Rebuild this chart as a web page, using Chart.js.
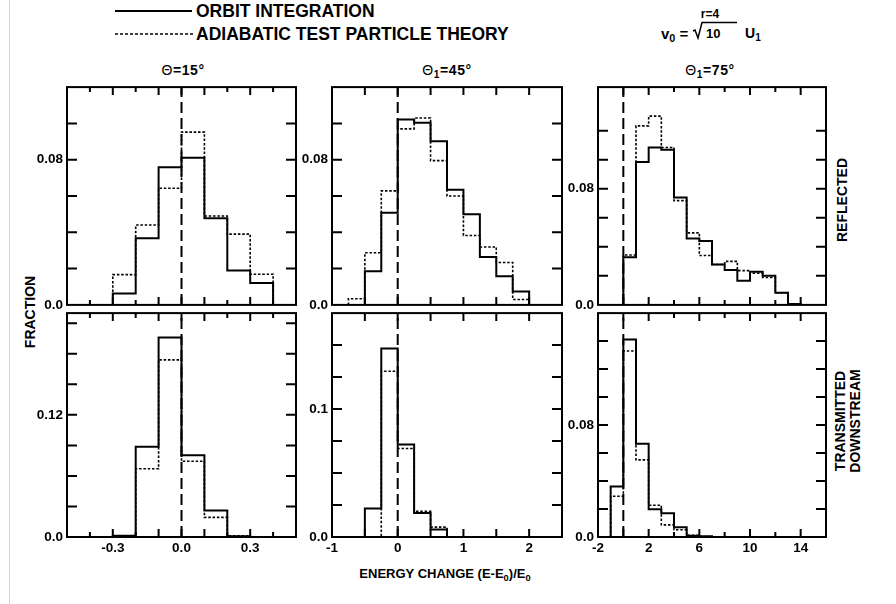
<!DOCTYPE html>
<html>
<head>
<meta charset="utf-8">
<script src="https://cdn.jsdelivr.net/npm/chart.js@4.4.1/dist/chart.umd.min.js"></script>
<style>
html,body{margin:0;padding:0;background:#fff;}
body{width:896px;height:604px;position:relative;overflow:hidden;font-family:"Liberation Sans",Arial,Helvetica,sans-serif;color:#000;}
.t{position:absolute;white-space:nowrap;font-weight:bold;line-height:1;}
.c{transform:translate(-50%,-50%);}
.l{transform:translateY(-50%);}
.rot{transform:translate(-50%,-50%) rotate(-90deg);text-align:center;}
.sb{font-size:72%;position:relative;top:0.28em;}
canvas{position:absolute;}
</style>
</head>
<body>
<div style="position:absolute;left:9px;top:0;width:1px;height:604px;background:#d4d4d4"></div>

<!-- legend -->
<div style="position:absolute;left:115px;top:10px;width:77px;height:2px;background:#000"></div>
<div class="t l" style="left:196px;top:12px;font-size:17.5px">ORBIT INTEGRATION</div>
<svg style="position:absolute;left:115px;top:29px" width="78" height="10"><line x1="0" y1="5" x2="78" y2="5" stroke="#000" stroke-width="1.6" stroke-dasharray="3,2"/></svg>
<div class="t l" style="left:196px;top:35px;font-size:17.5px">ADIABATIC TEST PARTICLE THEORY</div>

<!-- formula -->
<div class="t c" style="left:710px;top:14px;font-size:12px">r=4</div>
<div class="t l" style="left:661px;top:33px;font-size:15px">v<span class="sb">0</span> =</div>
<svg style="position:absolute;left:690px;top:18px" width="50" height="24"><polyline points="3,13 5,12 8,20 12,4.5 47,4.5" fill="none" stroke="#000" stroke-width="1.5"/></svg>
<div class="t l" style="left:706px;top:33px;font-size:13px">10</div>
<div class="t l" style="left:745px;top:33px;font-size:14px">U<span class="sb">1</span></div>

<!-- panel titles -->
<div class="t c" style="left:183px;top:70px;font-size:14px;letter-spacing:0.6px"><span style="font-weight:normal">Θ</span>=15°</div>
<div class="t c" style="left:447px;top:70px;font-size:14px;letter-spacing:0.6px"><span style="font-weight:normal">Θ</span><span class="sb">1</span>=45°</div>
<div class="t c" style="left:710px;top:70px;font-size:14px;letter-spacing:0.6px"><span style="font-weight:normal">Θ</span><span class="sb">1</span>=75°</div>

<!-- axis texts -->
<div class="t rot" style="left:30px;top:312px;font-size:14px">FRACTION</div>
<div class="t rot" style="left:842px;top:200px;font-size:14px">REFLECTED</div>
<div class="t rot" style="left:848px;top:421px;font-size:14px;line-height:15px">TRANSMITTED<br>DOWNSTREAM</div>
<div class="t c" style="left:445px;top:574px;font-size:13px">ENERGY CHANGE (E-E<span class="sb">0</span>)/E<span class="sb">0</span></div>

<script>
// ---------------- DATA ----------------
// Θ = 15°  (bins 0.1 wide)
const edges15R = [-0.3, -0.2, -0.1, 0.0, 0.1, 0.2, 0.3, 0.4];
const orbit15R = [0.0063, 0.0367, 0.0758, 0.0811, 0.0478, 0.0189, 0.0120];
const adiab15R = [0.0167, 0.0440, 0.0643, 0.0952, 0.0490, 0.0390, 0.0169];
const edges15T = [-0.3, -0.2, -0.1, 0.0, 0.1, 0.2, 0.3];
const orbit15T = [0.0013, 0.0887, 0.1960, 0.0803, 0.0260, 0.0008];
const adiab15T = [0.0013, 0.0671, 0.1740, 0.0745, 0.0193, 0.0013];

// Θ1 = 45°  (bins 0.25 wide)
const edges45R = [-0.75, -0.5, -0.25, 0.0, 0.25, 0.5, 0.75, 1.0, 1.25, 1.5, 1.75, 2.0];
const orbit45R = [0.0, 0.0186, 0.0508, 0.1021, 0.1004, 0.0901, 0.0635, 0.0499, 0.0264, 0.0158, 0.0074];
const adiab45R = [0.0034, 0.0287, 0.0628, 0.0970, 0.1030, 0.0795, 0.0600, 0.0382, 0.0319, 0.0234, 0.0030];
const edges45T = [-0.5, -0.25, 0.0, 0.25, 0.5, 0.75];
const orbit45T = [0.0223, 0.1474, 0.0723, 0.0187, 0.0059];
const adiab45T = [0.0, 0.1295, 0.0692, 0.0200, 0.0077];

// Θ1 = 75°  (bins 1 wide)
const edges75R = [0, 1, 2, 3, 4, 5, 6, 7, 8, 9, 10, 11, 12, 13, 14];
const orbit75R = [0.0329, 0.0984, 0.1084, 0.1069, 0.0740, 0.0458, 0.0440, 0.0278, 0.0240, 0.0167, 0.0229, 0.0200, 0.0084, 0.0007];
const adiab75R = [0.0344, 0.1233, 0.1300, 0.1084, 0.0718, 0.0496, 0.0340, 0.0278, 0.0300, 0.0236, 0.0218, 0.0189, 0.0084, 0.0007];
const edges75T = [-1, 0, 1, 2, 3, 4, 5, 6, 7];
const orbit75T = [0.0361, 0.1411, 0.0666, 0.0199, 0.0169, 0.0070, 0.0009, 0.0005];
const adiab75T = [0.0291, 0.1329, 0.0551, 0.0227, 0.0087, 0.0052, 0.0012, 0.0002];

// reference line E = E0
const refX = 0;

// x ticks / labels
const xRange15 = [-0.5, 0.5];
const xTicks15 = [-0.5, -0.4, -0.3, -0.2, -0.1, 0.0, 0.1, 0.2, 0.3, 0.4, 0.5];
const xLabVals15 = [-0.3, 0.0, 0.3];
const xLabTxt15 = ['-0.3', '0.0', '0.3'];
const xLong15 = [-0.3, -0.1, 0.0, 0.1, 0.3];

const xRange45 = [-1, 2.5];
const xTicks45 = [-1, -0.5, 0, 0.5, 1, 1.5, 2, 2.5];
const xLabVals45 = [-1, 0, 1, 2];
const xLabTxt45 = ['-1', '0', '1', '2'];
const xLong45 = [-0.5, 0, 0.5, 1, 1.5, 2];

const xRange75 = [-2, 16];
const xTicks75 = [-2, 0, 2, 4, 6, 8, 10, 12, 14, 16];
const xLabVals75 = [-2, 2, 6, 10, 14];
const xLabTxt75 = ['-2', '2', '6', '10', '14'];
const xLong75 = [0, 2, 6, 10, 14];

// y ranges / ticks / labels
const yMax15R = 0.12, yTicks15R = [0, 0.02, 0.04, 0.06, 0.08, 0.10], yLabVals15R = [0, 0.08], yLabTxt15R = ['0.0', '0.08'];
const yMax15T = 0.22, yTicks15T = [0, 0.03, 0.06, 0.09, 0.12, 0.15, 0.18, 0.21], yLabVals15T = [0, 0.12], yLabTxt15T = ['0.0', '0.12'];
const yMax45R = 0.12, yTicks45R = [0, 0.02, 0.04, 0.06, 0.08, 0.10], yLabVals45R = [0, 0.08], yLabTxt45R = ['0.0', '0.08'];
const yMax45T = 0.175, yTicks45T = [0, 0.025, 0.05, 0.075, 0.1, 0.125, 0.15], yLabVals45T = [0, 0.1], yLabTxt45T = ['0.0', '0.1'];
const yMax75R = 0.15, yTicks75R = [0, 0.02, 0.04, 0.06, 0.08, 0.10, 0.12], yLabVals75R = [0, 0.08], yLabTxt75R = ['0.0', '0.08'];
const yMax75T = 0.16, yTicks75T = [0, 0.02, 0.04, 0.06, 0.08, 0.10, 0.12, 0.14], yLabVals75T = [0, 0.08], yLabTxt75T = ['0.0', '0.08'];

// ---------------- LAYOUT ----------------
const COL_X = [[67, 296], [332, 562], [598, 826]];
const ROW_Y = [[83, 309], [309, 537]];
const PAD_L = 44, PAD_R = 8, PAD_T = 8;
const FONT = {family: '"Liberation Sans", Arial, Helvetica, sans-serif', size: 13.5, weight: 'bold'};

function near(a, b) { return Math.abs(a - b) < 1e-9; }
function labelFor(v, vals, txts) {
  for (let i = 0; i < vals.length; i++) if (near(v, vals[i])) return txts[i];
  return '';
}
function stepPoints(edges, vals) {
  const pts = [{x: edges[0], y: 0}];
  for (let i = 0; i < vals.length; i++) pts.push({x: edges[i], y: vals[i]});
  pts.push({x: edges[vals.length], y: 0});
  return pts;
}

const frameTicks = {
  id: 'frameTicks',
  afterDatasetsDraw(chart, args, o) {
    const {ctx, chartArea: a} = chart;
    const xs = chart.scales.x, ys = chart.scales.y;
    ctx.save();
    ctx.strokeStyle = '#000';
    ctx.lineWidth = 2;
    ctx.lineCap = 'butt';
    ctx.beginPath();
    xs.ticks.forEach(t => {
      if (near(t.value, xs.min) || near(t.value, xs.max)) return;
      const px = xs.getPixelForValue(t.value);
      const len = o.longX.some(v => near(v, t.value)) ? 8 : 5;
      ctx.moveTo(px, a.bottom); ctx.lineTo(px, a.bottom - len);
      ctx.moveTo(px, a.top); ctx.lineTo(px, a.top + len);
    });
    ys.ticks.forEach(t => {
      if (near(t.value, ys.min) || near(t.value, ys.max)) return;
      const py = ys.getPixelForValue(t.value);
      ctx.moveTo(a.left, py); ctx.lineTo(a.left + 10, py);
      ctx.moveTo(a.right, py); ctx.lineTo(a.right - 10, py);
    });
    ctx.stroke();
    ctx.strokeRect(a.left, a.top, a.right - a.left, a.bottom - a.top);
    ctx.restore();
  }
};

const panels = [
  {col: 0, row: 0, xr: xRange15, xt: xTicks15, xlv: xLabVals15, xlt: xLabTxt15, xl: xLong15,
   ymax: yMax15R, yt: yTicks15R, ylv: yLabVals15R, ylt: yLabTxt15R, e: edges15R, o: orbit15R, d: adiab15R},
  {col: 0, row: 1, xr: xRange15, xt: xTicks15, xlv: xLabVals15, xlt: xLabTxt15, xl: xLong15,
   ymax: yMax15T, yt: yTicks15T, ylv: yLabVals15T, ylt: yLabTxt15T, e: edges15T, o: orbit15T, d: adiab15T},
  {col: 1, row: 0, xr: xRange45, xt: xTicks45, xlv: xLabVals45, xlt: xLabTxt45, xl: xLong45,
   ymax: yMax45R, yt: yTicks45R, ylv: yLabVals45R, ylt: yLabTxt45R, e: edges45R, o: orbit45R, d: adiab45R},
  {col: 1, row: 1, xr: xRange45, xt: xTicks45, xlv: xLabVals45, xlt: xLabTxt45, xl: xLong45,
   ymax: yMax45T, yt: yTicks45T, ylv: yLabVals45T, ylt: yLabTxt45T, e: edges45T, o: orbit45T, d: adiab45T},
  {col: 2, row: 0, xr: xRange75, xt: xTicks75, xlv: xLabVals75, xlt: xLabTxt75, xl: xLong75,
   ymax: yMax75R, yt: yTicks75R, ylv: yLabVals75R, ylt: yLabTxt75R, e: edges75R, o: orbit75R, d: adiab75R},
  {col: 2, row: 1, xr: xRange75, xt: xTicks75, xlv: xLabVals75, xlt: xLabTxt75, xl: xLong75,
   ymax: yMax75T, yt: yTicks75T, ylv: yLabVals75T, ylt: yLabTxt75T, e: edges75T, o: orbit75T, d: adiab75T}
];

panels.forEach(p => {
  const [l, r] = COL_X[p.col];
  const [t, b] = ROW_Y[p.row];
  const bottomRow = p.row === 1;
  const padB = bottomRow ? 30 : 8;
  const W = (r - l) + PAD_L + PAD_R;
  const H = (b - t) + PAD_T + padB;
  const cv = document.createElement('canvas');
  cv.width = W; cv.height = H;
  cv.style.left = (l - PAD_L) + 'px';
  cv.style.top = (t - PAD_T) + 'px';
  cv.style.width = W + 'px';
  cv.style.height = H + 'px';
  document.body.appendChild(cv);

  new Chart(cv, {
    type: 'line',
    data: {
      datasets: [
        {data: [{x: refX, y: 0}, {x: refX, y: p.ymax}], borderColor: '#000', borderWidth: 2,
         borderDash: [11, 5], pointRadius: 0, fill: false},
        {data: stepPoints(p.e, p.d), borderColor: '#000', borderWidth: 1.6, borderDash: [2.5, 1.8],
         stepped: 'before', pointRadius: 0, fill: false},
        {data: stepPoints(p.e, p.o), borderColor: '#000', borderWidth: 2,
         stepped: 'before', pointRadius: 0, fill: false}
      ]
    },
    options: {
      responsive: false,
      animation: false,
      devicePixelRatio: 1,
      events: [],
      layout: {autoPadding: false, padding: {top: PAD_T, right: PAD_R, left: 0, bottom: 0}},
      plugins: {legend: {display: false}, tooltip: {enabled: false}, frameTicks: {longX: p.xl}},
      scales: {
        x: {
          type: 'linear', min: p.xr[0], max: p.xr[1],
          grid: {display: false, drawTicks: false},
          border: {display: false},
          afterBuildTicks: s => { s.ticks = p.xt.map(v => ({value: v})); },
          afterFit: s => { s.height = padB; },
          ticks: {display: bottomRow, autoSkip: false, maxRotation: 0, minRotation: 0, padding: 3,
                  color: '#000', font: FONT, callback: v => labelFor(v, p.xlv, p.xlt)}
        },
        y: {
          type: 'linear', min: 0, max: p.ymax,
          grid: {display: false, drawTicks: false},
          border: {display: false},
          afterBuildTicks: s => { s.ticks = p.yt.map(v => ({value: v})); },
          afterFit: s => { s.width = PAD_L; },
          ticks: {autoSkip: false, padding: 4, color: '#000', font: FONT,
                  callback: v => labelFor(v, p.ylv, p.ylt)}
        }
      }
    },
    plugins: [frameTicks]
  });
});
</script>
</body>
</html>
